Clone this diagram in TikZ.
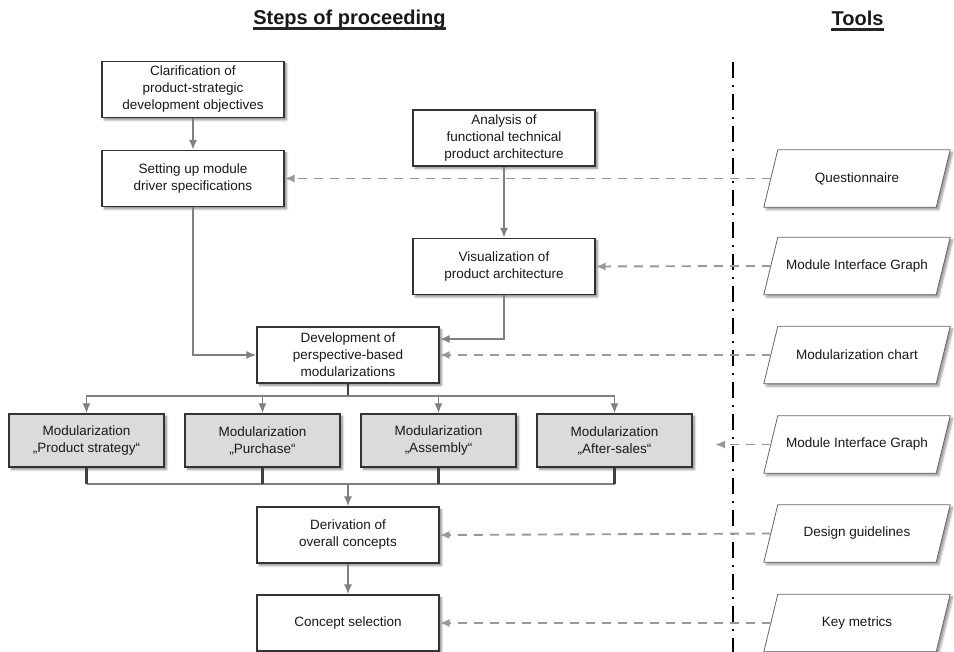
\documentclass[tikz,border=0pt]{standalone}
\usepackage{fontspec}
\setmainfont{Liberation Sans}
\usetikzlibrary{arrows.meta,shadows.blur,backgrounds}

\begin{document}
\begin{tikzpicture}[x=1pt,y=1pt, font=\fontsize{13.5}{17}\selectfont, text=black!90,
procstep/.style={draw=black!80, line width=1.1pt, fill=white, align=center, minimum width=182pt, minimum height=56pt, inner sep=2pt, blur shadow={shadow xshift=2.5pt, shadow yshift=-2.5pt, shadow blur steps=6, shadow opacity=45}},
modstep/.style={procstep, fill=black!14, minimum width=155pt, minimum height=53pt},
toolbox/.style={minimum width=172pt, minimum height=57pt, inner sep=2pt},
toolframe/.style={draw=black!60, line width=0.8pt, fill=white, blur shadow={shadow xshift=2.5pt, shadow yshift=-2.5pt, shadow blur steps=6, shadow opacity=40}},
flow/.style={draw=black!50, line width=1.9pt, -{Latex[length=10pt,width=8pt]}},
line/.style={draw=black!50, line width=1.9pt},
stub/.style={draw=black!75, line width=2.4pt},
hint/.style={draw=black!40, line width=1.9pt, dash pattern=on 9pt off 7pt, -{Latex[length=10pt,width=8pt]}},
heading/.style={font=\bfseries\fontsize{20}{24}\selectfont, inner sep=0pt, anchor=base}]
\useasboundingbox (0,0) rectangle (954,652);

\node[heading] (steps) at (349.5,627){Steps of proceeding};
\draw[line width=2.6pt, black!85] ([yshift=-3.5pt]steps.base west) -- ([yshift=-3.5pt]steps.base east);
\node[heading] (tools) at (857.5,626){Tools};
\draw[line width=2.6pt, black!85] ([yshift=-3.5pt]tools.base west) -- ([yshift=-3.5pt]tools.base east);
\draw[line width=2pt, dash pattern=on 16pt off 7pt on 2pt off 7pt] (733,590) -- (733,0);

\node[procstep] (clar) at (193,562.5){Clarification of\\product-strategic\\development objectives};
\node[procstep] (setup) at (193,473.5){Setting up module\\driver specifications};
\node[procstep] (anal) at (504,514){Analysis of\\functional technical\\product architecture};
\node[procstep] (visu) at (504,385.5){Visualization of\\product architecture};
\node[procstep] (devel) at (348,297){Development of\\perspective-based\\modularizations};
\node[modstep] (mod1) at (86.5,211.5){Modularization\\„Product strategy“};
\node[modstep] (mod2) at (262.5,211.5){Modularization\\„Purchase“};
\node[modstep] (mod3) at (438.5,211.5){Modularization\\„Assembly“};
\node[modstep] (mod4) at (614.5,211.5){Modularization\\„After-sales“};
\node[procstep] (deriv) at (348,117){Derivation of\\overall concepts};
\node[procstep] (select) at (348,29){Concept selection};

\node[toolbox] (quest) at (857,473.5){Questionnaire};
\node[toolbox] (graph1) at (857,386){Module Interface Graph};
\node[toolbox] (chart) at (857,297){Modularization chart};
\node[toolbox] (graph2) at (857,207.5){Module Interface Graph};
\node[toolbox] (guide) at (857,118.5){Design guidelines};
\node[toolbox] (metric) at (857,29){Key metrics};
\begin{scope}[on background layer]
\foreach \t in {quest,graph1,chart,graph2,guide,metric}
  \draw[toolframe] ([xshift=7pt]\t.north west) -- ([xshift=7pt]\t.north east) -- ([xshift=-7pt]\t.south east) -- ([xshift=-7pt]\t.south west) -- cycle;
\end{scope}

\coordinate (split) at (348,256);
\coordinate (merge) at (348,168);
\coordinate (graphend) at (715,207.5);

\draw[flow] (clar) -- (setup);
\draw[flow] (anal) -- (visu);
\draw[flow] (setup.south) |- (devel.west);
\draw[flow] (visu.south) |- ([yshift=16pt]devel.east);
\draw[stub] (devel.south) -- (split);
\draw[flow] (split) -| (mod1.north);
\draw[flow] (split) -| (mod2.north);
\draw[flow] (split) -| (mod3.north);
\draw[flow] (split) -| (mod4.north);
\draw[line] (mod1.south |- merge) -- (mod4.south |- merge);
\draw[stub] (mod1.south) -- (mod1.south |- merge);
\draw[stub] (mod2.south) -- (mod2.south |- merge);
\draw[stub] (mod3.south) -- (mod3.south |- merge);
\draw[stub] (mod4.south) -- (mod4.south |- merge);
\draw[flow] (merge) -- (deriv.north);
\draw[flow] (deriv) -- (select);

\draw[hint] (quest.west) -- (setup.east);
\draw[hint] (graph1.west) -- (visu.east);
\draw[hint] (chart.west) -- (devel.east);
\draw[hint] (graph2.west) -- (graphend);
\draw[hint] (guide.west) -- (deriv.east);
\draw[hint] (metric.west) -- (select.east);

\end{tikzpicture}
\end{document}
